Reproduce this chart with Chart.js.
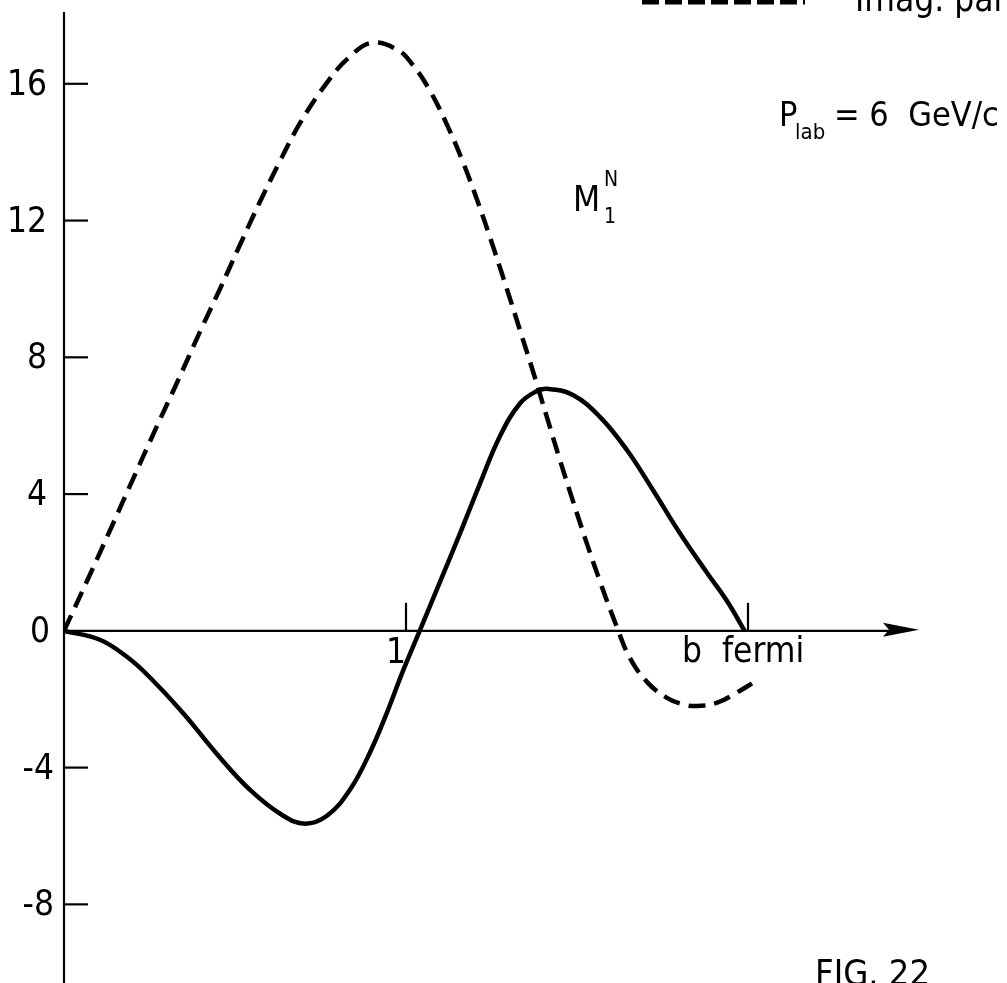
<!DOCTYPE html>
<html>
<head>
<meta charset="utf-8">
<script src="https://cdn.jsdelivr.net/npm/chart.js@4.4.1/dist/chart.umd.min.js"></script>
<style>
  html, body { margin: 0; padding: 0; background: #fff; }
  #fig { display: block; }
</style>
</head>
<body>
<canvas id="fig" width="1007" height="983"></canvas>
<script>
// b in fermi, M_1^N real part (solid)
const realB = [0, 0.105, 0.184, 0.25, 0.348, 0.447, 0.544, 0.64, 0.705, 0.77, 0.836, 0.895, 0.944, 0.99, 1.04,
               1.10, 1.158, 1.216, 1.275, 1.333, 1.38, 1.412, 1.488, 1.567, 1.646, 1.722, 1.80, 1.88, 1.94, 1.99];
const realM = [0, -0.26, -0.76, -1.35, -2.4, -3.6, -4.65, -5.4, -5.64, -5.4, -4.65, -3.55, -2.4, -1.2, 0,
               1.45, 2.85, 4.3, 5.7, 6.65, 7.0, 7.08, 6.9, 6.26, 5.29, 4.12, 2.87, 1.7, 0.85, 0];

// imaginary part (dashed)
const imagB = [0, 0.067, 0.135, 0.2, 0.27, 0.33, 0.4, 0.456, 0.515, 0.573, 0.632, 0.69, 0.77, 0.836, 0.9, 0.974,
               1.02, 1.07, 1.12, 1.167, 1.208, 1.246, 1.295, 1.333, 1.371, 1.412, 1.45, 1.488, 1.529, 1.567,
               1.617, 1.655, 1.705, 1.763, 1.81, 1.85, 1.91, 1.96, 2.026];
const imagM = [0, 1.45, 2.95, 4.4, 5.95, 7.25, 8.8, 10.0, 11.3, 12.55, 13.75, 14.85, 16.05, 16.8, 17.2, 17.0,
               16.55, 15.8, 14.8, 13.7, 12.6, 11.5, 10.0, 8.8, 7.6, 6.25, 5.0, 3.8, 2.55, 1.45,
               0.1, -0.8, -1.5, -1.96, -2.15, -2.2, -2.1, -1.85, -1.45];

const bTicks = [1, 2];
const mTicks = [-8, -4, 0, 4, 8, 12, 16];
const mTickLabels = ['-8', '-4', '0', '4', '8', '12', '16'];

const FONT = '"Liberation Sans Narrow", "DejaVu Sans Condensed", "Liberation Sans", sans-serif';

function pts(xs, ys) {
    return xs.map((x, i) => ({ x: x, y: ys[i] }));
}

// draws the hand-drawn style axes, ticks and lettering
const figureAxes = {
    id: 'figureAxes',
    beforeDatasetsDraw(chart) {
        const ctx = chart.ctx;
        const xs = chart.scales.x;
        const ys = chart.scales.y;
        const x0 = xs.getPixelForValue(0);
        const y0 = ys.getPixelForValue(0);

        ctx.save();
        ctx.strokeStyle = '#000';
        ctx.fillStyle = '#000';
        ctx.lineWidth = 2.2;

        // vertical axis
        ctx.beginPath();
        ctx.moveTo(x0, chart.chartArea.top);
        ctx.lineTo(x0, chart.chartArea.bottom);
        ctx.stroke();

        // horizontal axis with arrow
        const xEnd = xs.getPixelForValue(2.5);
        ctx.beginPath();
        ctx.moveTo(x0, y0);
        ctx.lineTo(xEnd - 30, y0);
        ctx.stroke();
        ctx.beginPath();
        ctx.moveTo(xEnd, y0 - 1);
        ctx.lineTo(xEnd - 36, y0 - 8);
        ctx.lineTo(xEnd - 30, y0 - 1);
        ctx.lineTo(xEnd - 36, y0 + 6);
        ctx.closePath();
        ctx.fill();

        // y ticks (inside) and labels
        ctx.font = '35px ' + FONT;
        ctx.textAlign = 'right';
        ctx.textBaseline = 'middle';
        mTicks.forEach((v, i) => {
            const py = ys.getPixelForValue(v);
            if (v !== 0) {
                ctx.beginPath();
                ctx.moveTo(x0, py);
                ctx.lineTo(x0 + 24, py);
                ctx.stroke();
            }
            const lx = v < 0 ? 54 : (v === 0 ? 50 : 47);
            ctx.fillText(mTickLabels[i], lx, py + 2);
        });

        // x ticks (upward)
        bTicks.forEach(v => {
            const px = xs.getPixelForValue(v);
            ctx.beginPath();
            ctx.moveTo(px, y0);
            ctx.lineTo(px, y0 - 28);
            ctx.stroke();
        });
        ctx.textAlign = 'center';
        ctx.textBaseline = 'alphabetic';
        ctx.fillText('1', xs.getPixelForValue(1) - 10, 663);

        // axis title
        ctx.textAlign = 'left';
        ctx.fillText('b  fermi', 682, 662);

        // legend fragment at the top edge
        ctx.lineWidth = 5;
        ctx.setLineDash([17, 6]);
        ctx.beginPath();
        ctx.moveTo(642, 2);
        ctx.lineTo(805, 2);
        ctx.stroke();
        ctx.setLineDash([]);
        ctx.fillText('Imag. part', 855, 11);

        // P_lab = 6 GeV/c
        ctx.font = '34px ' + FONT;
        ctx.fillText('P', 779, 126);
        ctx.font = '22px ' + FONT;
        ctx.fillText('lab', 795, 139);
        ctx.font = '34px ' + FONT;
        ctx.fillText('= 6  GeV/c', 834, 126);

        // M_1^N
        ctx.font = '35px ' + FONT;
        ctx.fillText('M', 573, 211);
        ctx.font = '21px ' + FONT;
        ctx.fillText('N', 604, 186);
        ctx.fillText('1', 604, 223);

        // figure number
        ctx.font = '36px ' + FONT;
        ctx.fillText('FIG. 22', 815, 985);

        ctx.restore();
    }
};

const ctx = document.getElementById('fig').getContext('2d');
const chart = new Chart(ctx, {
    type: 'scatter',
    data: {
        datasets: [
            {
                label: 'Real part',
                data: pts(realB, realM),
                showLine: true,
                borderColor: '#000',
                borderWidth: 4.5,
                pointRadius: 0,
                tension: 0.4
            },
            {
                label: 'Imag. part',
                data: pts(imagB, imagM),
                showLine: true,
                borderColor: '#000',
                borderWidth: 4.5,
                borderDash: [17, 9],
                pointRadius: 0,
                tension: 0.4
            }
        ]
    },
    options: {
        responsive: false,
        animation: false,
        layout: { padding: { left: 64, right: 88, top: 12, bottom: 0 } },
        scales: {
            x: { type: 'linear', min: 0, max: 2.5, display: false },
            y: { type: 'linear', min: -10.3, max: 18.1, display: false }
        },
        plugins: {
            legend: { display: false },
            tooltip: { enabled: false }
        }
    },
    plugins: [figureAxes]
});
</script>
</body>
</html>
